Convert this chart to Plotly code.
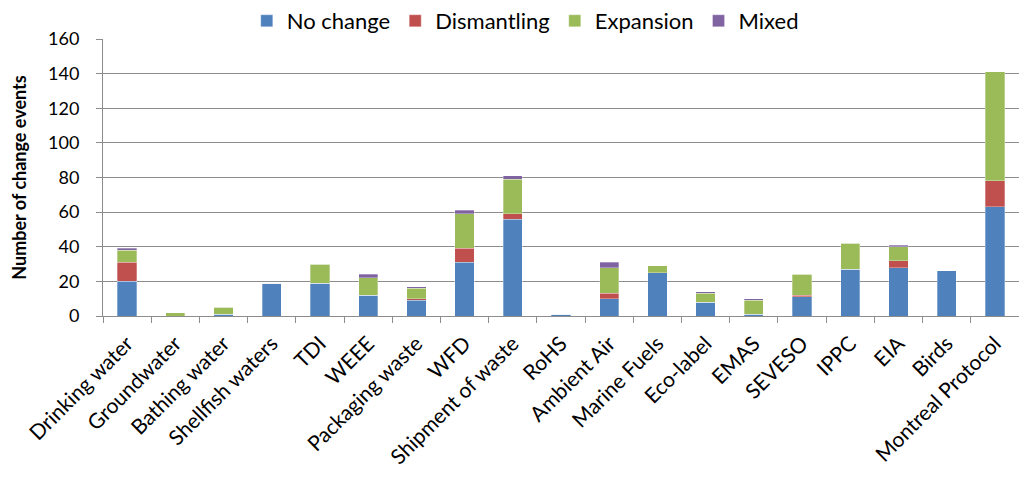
import plotly.graph_objects as go

categories = ["Drinking water", "Groundwater", "Bathing water", "Shellfish waters", "TDI",
              "WEEE", "Packaging waste", "WFD", "Shipment of waste", "RoHS", "Ambient Air",
              "Marine Fuels", "Eco-label", "EMAS", "SEVESO", "IPPC", "EIA", "Birds",
              "Montreal Protocol"]

no_change = [20, 0, 1, 19, 19, 12, 9, 31, 56, 1, 10, 25, 8, 1, 11, 27, 28, 26, 63]
dismantling = [11, 0, 0, 0, 0, 0, 1, 8, 3, 0, 3, 0, 0, 0, 1, 0, 4, 0, 15]
expansion = [7, 2, 4, 0, 11, 10, 6, 20, 20, 0, 15, 4, 5, 8, 12, 15, 8, 0, 63]
mixed = [1, 0, 0, 0, 0, 2, 1, 2, 2, 0, 3, 0, 1, 1, 0, 0, 1, 0, 0]

FONT = "Lato"

series = [
    ("No change", no_change, "#4F81BD"),
    ("Dismantling", dismantling, "#C0504D"),
    ("Expansion", expansion, "#9BBB59"),
    ("Mixed", mixed, "#8064A2"),
]

fig = go.Figure()
for name, vals, color in series:
    fig.add_trace(go.Bar(x=categories, y=vals, name=name,
                         marker=dict(color=color, line=dict(color="rgba(255,255,255,0.6)", width=0.5))))

# page body has an 8px margin, so the figure is sized to fit inside it
fig.update_layout(
    barmode="stack",
    bargap=0.6,
    width=1011, height=468,
    margin=dict(l=95, r=0, t=31, b=160, autoexpand=False),
    paper_bgcolor="white", plot_bgcolor="white",
    font=dict(family=FONT, color="black"),
    legend=dict(orientation="h", x=0.461, xanchor="center", y=1.065, yanchor="middle",
                font=dict(size=22), itemwidth=30, traceorder="normal",
                bgcolor="rgba(0,0,0,0)"),
    showlegend=True,
)
fig.update_yaxes(range=[0, 160], dtick=20, showgrid=True, gridcolor="#8C8C8C", gridwidth=1,
                 showline=True, linecolor="#8C8C8C", ticks="outside", ticklen=6,
                 tickcolor="#8C8C8C", tickfont=dict(size=18), automargin=False,
                 ticklabelstandoff=13,
                 title=dict(text="<b>Number of change events</b>", font=dict(size=18), standoff=20))
fig.update_xaxes(tickangle=-45, tickfont=dict(size=21), showline=True, linecolor="#8C8C8C",
                 ticks="outside", tickson="boundaries", ticklen=6, tickcolor="#8C8C8C",
                 ticklabelstandoff=6, automargin=False)

fig.write_html("out.html")
